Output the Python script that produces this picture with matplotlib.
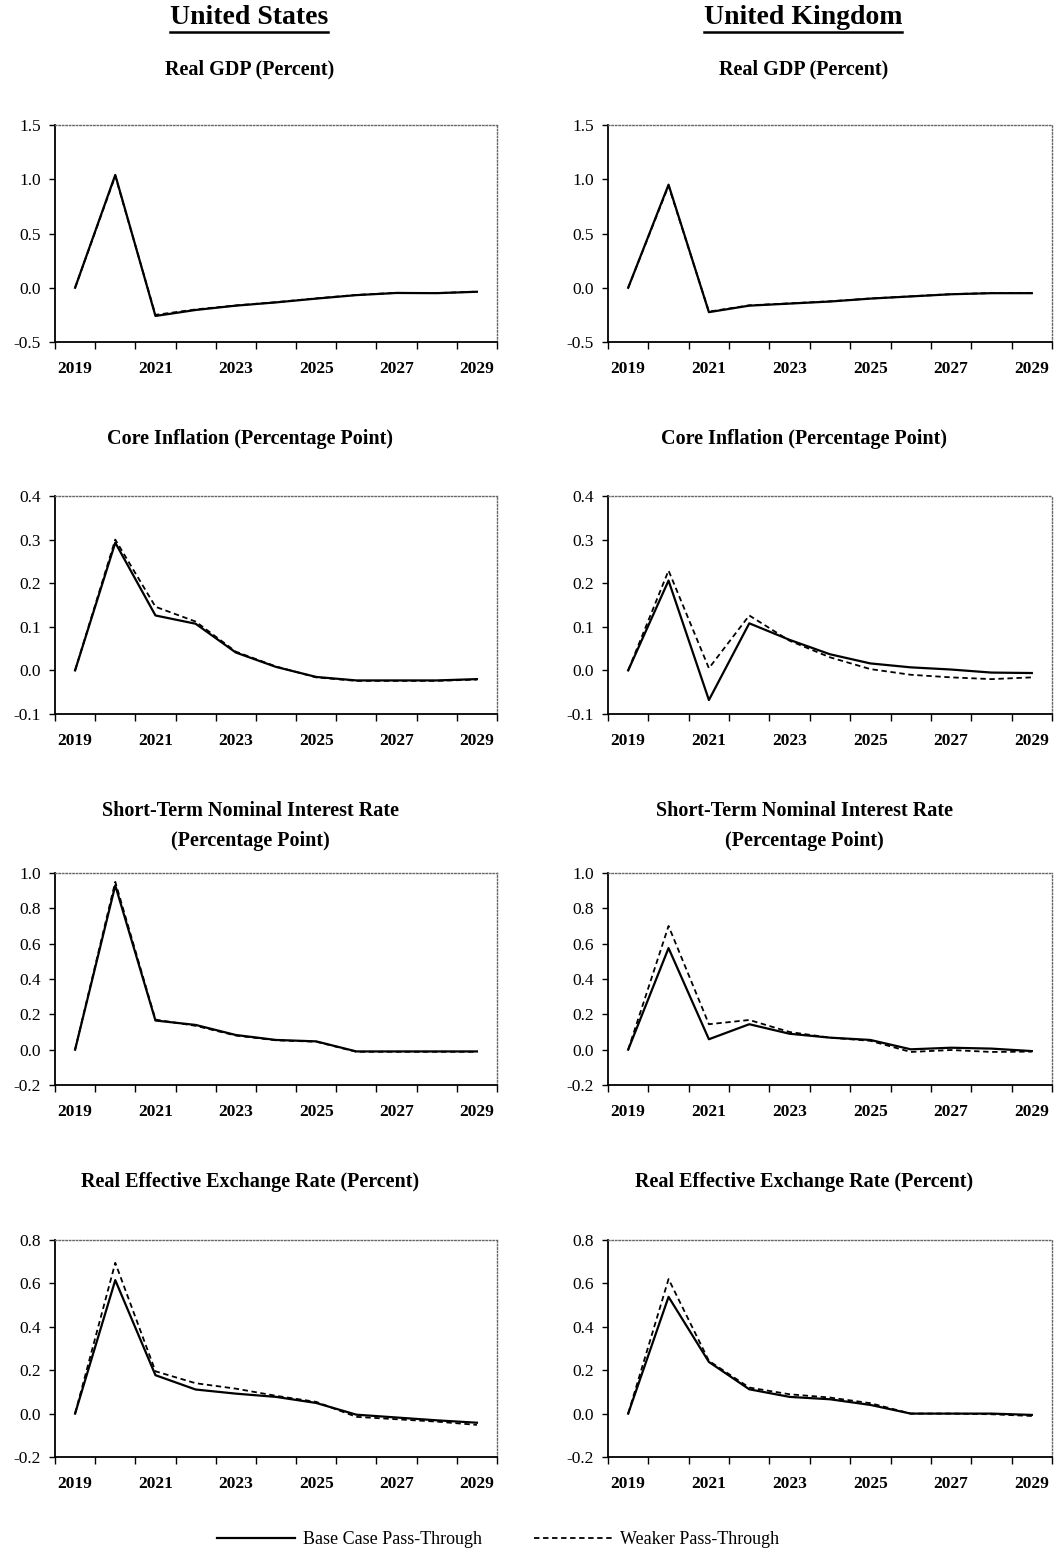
import matplotlib
matplotlib.use("Agg")
import matplotlib.pyplot as plt
from matplotlib.lines import Line2D

plt.rcParams['font.family'] = ['Liberation Serif', 'DejaVu Serif']

years = [2019, 2020, 2021, 2022, 2023, 2024, 2025, 2026, 2027, 2028, 2029]
label_years = ["2019", "2021", "2023", "2025", "2027", "2029"]

country_titles = ["United States", "United Kingdom"]
panel_titles = ["Real GDP (Percent)",
                "Core Inflation (Percentage Point)",
                "Short-Term Nominal Interest Rate\n(Percentage Point)",
                "Real Effective Exchange Rate (Percent)"]
series_names = ["Base Case Pass-Through", "Weaker Pass-Through"]

# United States
us_gdp_base = [0.0, 1.04, -0.26, -0.205, -0.165, -0.135, -0.10, -0.068, -0.048, -0.05, -0.037]
us_gdp_weak = [0.0, 1.03, -0.25, -0.20, -0.163, -0.133, -0.098, -0.066, -0.047, -0.049, -0.036]
us_inf_base = [0.0, 0.293, 0.126, 0.107, 0.041, 0.008, -0.015, -0.023, -0.023, -0.023, -0.020]
us_inf_weak = [0.0, 0.300, 0.146, 0.112, 0.043, 0.009, -0.016, -0.024, -0.024, -0.024, -0.021]
us_rate_base = [0.0, 0.93, 0.165, 0.14, 0.083, 0.055, 0.047, -0.01, -0.01, -0.01, -0.01]
us_rate_weak = [0.0, 0.95, 0.17, 0.135, 0.08, 0.053, 0.045, -0.012, -0.012, -0.012, -0.012]
us_reer_base = [0.0, 0.615, 0.177, 0.111, 0.092, 0.077, 0.049, -0.005, -0.018, -0.031, -0.042]
us_reer_weak = [0.0, 0.695, 0.195, 0.140, 0.115, 0.082, 0.054, -0.015, -0.026, -0.037, -0.052]

# United Kingdom
uk_gdp_base = [0.0, 0.95, -0.225, -0.165, -0.146, -0.127, -0.10, -0.08, -0.06, -0.05, -0.05]
uk_gdp_weak = [0.0, 0.94, -0.22, -0.162, -0.144, -0.125, -0.099, -0.079, -0.059, -0.049, -0.049]
uk_inf_base = [0.0, 0.206, -0.068, 0.108, 0.070, 0.037, 0.016, 0.007, 0.002, -0.005, -0.006]
uk_inf_weak = [0.0, 0.229, 0.005, 0.126, 0.068, 0.030, 0.003, -0.010, -0.016, -0.020, -0.016]
uk_rate_base = [0.0, 0.575, 0.059, 0.144, 0.090, 0.068, 0.055, 0.002, 0.011, 0.006, -0.008]
uk_rate_weak = [0.0, 0.700, 0.144, 0.168, 0.100, 0.068, 0.050, -0.013, -0.002, -0.013, -0.011]
uk_reer_base = [0.0, 0.538, 0.238, 0.112, 0.077, 0.066, 0.040, 0.0, 0.0, 0.0, -0.006]
uk_reer_weak = [0.0, 0.620, 0.243, 0.120, 0.089, 0.074, 0.048, 0.0, 0.0, -0.003, -0.011]

y_limits = [(-0.5, 1.5), (-0.1, 0.4), (-0.2, 1.0), (-0.2, 0.8)]
y_ticks = [[-0.5, 0.0, 0.5, 1.0, 1.5],
           [-0.1, 0.0, 0.1, 0.2, 0.3, 0.4],
           [-0.2, 0.0, 0.2, 0.4, 0.6, 0.8, 1.0],
           [-0.2, 0.0, 0.2, 0.4, 0.6, 0.8]]

data = [
    [(us_gdp_base, us_gdp_weak), (uk_gdp_base, uk_gdp_weak)],
    [(us_inf_base, us_inf_weak), (uk_inf_base, uk_inf_weak)],
    [(us_rate_base, us_rate_weak), (uk_rate_base, uk_rate_weak)],
    [(us_reer_base, us_reer_weak), (uk_reer_base, uk_reer_weak)],
]

W, H = 1059, 1553
fig = plt.figure(figsize=(W / 100, H / 100), dpi=100)
fig.patch.set_facecolor('white')

col_x = [(55, 497), (608, 1052)]
row_y = [(125, 342), (496, 714), (873, 1085), (1240, 1457)]
title_y = [69, 439, 826, 1182]

n = len(years)
xpos = [i + 0.5 for i in range(n)]

for r in range(4):
    for c in range(2):
        x0, x1 = col_x[c]
        t, b = row_y[r]
        ax = fig.add_axes([x0 / W, 1 - b / H, (x1 - x0) / W, (b - t) / H])
        base, weak = data[r][c]
        ax.plot(xpos, weak, color='black', lw=1.3, linestyle=(0, (3, 2)))
        ax.plot(xpos, base, color='black', lw=1.6)
        ax.set_xlim(0, n)
        ax.set_ylim(*y_limits[r])
        ax.set_yticks(y_ticks[r])
        ax.set_yticklabels([f"{v:.1f}" for v in y_ticks[r]], fontsize=12.5)
        ax.set_xticks(range(n + 1))
        ax.set_xticklabels([])
        ax.set_xticks([0.5 + 2 * i for i in range(len(label_years))], minor=True)
        ax.set_xticklabels(label_years, minor=True, fontsize=12.5, fontweight='bold')
        ax.tick_params(axis='x', which='major', length=5, direction='out', width=1)
        ax.tick_params(axis='x', which='minor', length=0, pad=14)
        ax.tick_params(axis='y', length=4, direction='out', width=1, pad=6)
        for s in ['left', 'bottom']:
            ax.spines[s].set_color('black')
            ax.spines[s].set_linewidth(1.3)
        for s in ['top', 'right']:
            ax.spines[s].set_color('#666666')
            ax.spines[s].set_linewidth(1.0)
            ax.spines[s].set_linestyle((0, (1, 1.5)))
        cx = (x0 + x1) / 2 - 26
        fig.text(cx / W, 1 - title_y[r] / H, panel_titles[r], ha='center', va='center',
                 fontsize=14.5, fontweight='bold', linespacing=1.65)

# Country headers with underline
for c in range(2):
    x0, x1 = col_x[c]
    cx = (x0 + x1) / 2 - 27
    txt = fig.text(cx / W, 1 - 18 / H, country_titles[c], ha='center', va='center',
                   fontsize=20, fontweight='bold')
    fig.canvas.draw()
    bb = txt.get_window_extent(renderer=fig.canvas.get_renderer())
    uy = (bb.y0 - 1) / fig.bbox.height
    fig.add_artist(Line2D([bb.x0 / fig.bbox.width, bb.x1 / fig.bbox.width], [uy, uy],
                          color='black', lw=1.8, transform=fig.transFigure))

handles = [Line2D([], [], color='black', lw=1.6),
           Line2D([], [], color='black', lw=1.3, linestyle=(0, (3, 2)))]
fig.legend(handles, series_names, loc='center', bbox_to_anchor=(498 / W, 1 - 1540 / H),
           ncol=2, frameon=False, fontsize=13, handlelength=4.3, columnspacing=2.9,
           handletextpad=0.45)

fig.savefig('out.png', dpi=100, facecolor='white')
